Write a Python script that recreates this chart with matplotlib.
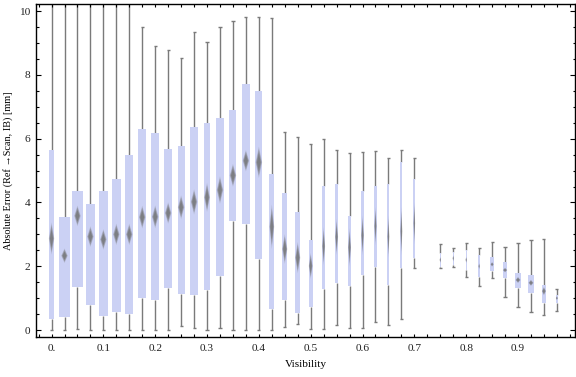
import numpy as np
import matplotlib.pyplot as plt
from matplotlib.patches import Polygon, Rectangle

plt.rcParams['font.family'] = ['Liberation Serif', 'DejaVu Serif']

# bin centres on the visibility axis
visibility = [0.0, 0.025, 0.05, 0.075, 0.1, 0.125, 0.15, 0.175, 0.2, 0.225,
              0.25, 0.275, 0.3, 0.325, 0.35, 0.375, 0.4, 0.425, 0.45, 0.475,
              0.5, 0.525, 0.55, 0.575, 0.6, 0.625, 0.65, 0.675, 0.7, 0.725,
              0.75, 0.775, 0.8, 0.825, 0.85, 0.875, 0.9, 0.925, 0.95, 0.975]

nan = np.nan
whisker_lo = [0.0, 0.0, 0.02, 0.0, 0.0, 0.0, 0.0, 0.0, 0.0, 0.0,
              0.13, 0.07, 0.0, 0.07, 0.0, 0.0, 0.0, 0.0, 0.1, 0.18,
              0.03, 0.03, 0.16, 0.07, 0.07, 0.25, 0.16, 0.34, 1.93, nan,
              1.93, 1.99, 1.67, 1.39, 1.64, 1.02, 0.71, 0.55, 0.47, 0.61]
q1 = [0.35, 0.4, 1.35, 0.78, 0.45, 0.55, 0.5, 1.0, 0.93, 1.33,
      1.13, 1.1, 1.25, 1.69, 3.43, 3.33, 2.24, 0.67, 0.93, 0.54,
      0.73, 1.3, 1.48, 1.38, 1.72, 1.97, 1.41, 1.93, 2.25, nan,
      1.99, 2.03, 1.88, 1.65, 1.86, 1.64, 1.33, 1.17, 0.86, 0.84]
q3 = [5.65, 3.55, 4.35, 3.95, 4.35, 4.73, 5.49, 6.3, 6.18, 5.69,
      5.77, 6.36, 6.48, 6.66, 6.9, 7.71, 7.49, 4.89, 4.3, 3.69,
      2.82, 4.51, 4.58, 3.57, 4.36, 4.51, 4.58, 5.28, 4.73, nan,
      2.4, 2.45, 2.51, 2.36, 2.28, 2.12, 1.79, 1.72, 1.41, 1.1]
whisker_hi = [12.5, 12.5, 12.5, 12.5, 12.5, 12.5, 12.5, 9.49, 8.92, 8.77,
              8.52, 9.36, 9.02, 9.51, 9.7, 9.83, 9.83, 9.8, 6.2, 6.04,
              5.82, 5.98, 5.66, 5.54, 5.57, 5.61, 5.41, 5.66, 5.38, nan,
              2.7, 2.56, 2.72, 2.56, 2.75, 2.59, 2.72, 2.82, 2.84, 1.3]
# mean and its confidence half-height (diamond)
mean = [2.87, 2.33, 3.58, 2.93, 2.84, 3.0, 3.0, 3.54, 3.55, 3.67,
        3.85, 4.02, 4.16, 4.39, 4.85, 5.31, 5.26, 3.24, 2.54, 2.27,
        2.01, 2.63, 2.92, 2.59, 2.97, 3.26, 2.93, 3.1, 3.35, nan,
        2.2, 2.25, 2.2, 2.0, 2.06, 1.88, 1.57, 1.48, 1.22, 1.0]
mean_ci = [0.42, 0.19, 0.27, 0.27, 0.27, 0.28, 0.28, 0.3, 0.3, 0.28,
           0.31, 0.33, 0.38, 0.36, 0.3, 0.28, 0.41, 0.58, 0.39, 0.41,
           0.34, 0.5, 0.47, 0.5, 0.52, 0.5, 0.55, 0.63, 0.55, nan,
           0.08, 0.08, 0.08, 0.08, 0.06, 0.06, 0.08, 0.08, 0.11, 0.05]
# relative sample weight of each bin (sets box width)
weight = [0.53, 1.0, 1.0, 0.84, 0.84, 0.81, 0.75, 0.75, 0.75, 0.75,
          0.63, 0.75, 0.56, 0.68, 0.65, 0.75, 0.65, 0.47, 0.5, 0.5,
          0.37, 0.28, 0.28, 0.28, 0.25, 0.22, 0.19, 0.19, 0.16, 0.0,
          0.12, 0.12, 0.12, 0.12, 0.31, 0.44, 0.5, 0.5, 0.4, 0.2]

box_color = '#cbd1f4'
line_color = '#7a7a7a'

fig = plt.figure(figsize=(5.76, 3.77), dpi=100)
ax = fig.add_axes([0.0625, 0.106, 0.9358, 0.883])

max_w = 0.0207
cap = 0.003
for x, lo, a, b, hi, m, ci, w in zip(visibility, whisker_lo, q1, q3, whisker_hi,
                                      mean, mean_ci, weight):
    if np.isnan(a):
        continue
    bw = w * max_w
    ax.vlines(x, lo, a, color=line_color, lw=1.0, zorder=1)
    ax.vlines(x, b, hi, color=line_color, lw=1.0, zorder=1)
    ax.hlines([lo, hi], x - cap, x + cap, color=line_color, lw=1.0, zorder=1)
    ax.add_patch(Rectangle((x - bw / 2, a), bw, b - a, facecolor=box_color,
                           edgecolor='none', zorder=2))
    dw = min(0.8 * bw, 0.0105) / 2
    # soft diamond: a few stacked layers
    for s, al in [(1.2, 0.25), (1.0, 0.45), (0.7, 0.6)]:
        pts = [(x, m + ci * s), (x + dw * s, m), (x, m - ci * s), (x - dw * s, m)]
        ax.add_patch(Polygon(pts, closed=True, facecolor='#6e6e6e', edgecolor='none',
                             alpha=al, zorder=3))

ax.set_xlim(-0.03, 1.01)
ax.set_ylim(-0.22, 10.22)

ax.set_xticks([0.0, 0.1, 0.2, 0.3, 0.4, 0.5, 0.6, 0.7, 0.8, 0.9])
ax.set_xticklabels(['0.', '0.1', '0.2', '0.3', '0.4', '0.5', '0.6', '0.7', '0.8', '0.9'])
ax.set_xticks(np.arange(-0.025, 1.001, 0.025), minor=True)
ax.set_yticks([0, 2, 4, 6, 8, 10])
ax.set_yticks(np.arange(0, 10.01, 0.5), minor=True)

ax.tick_params(which='both', direction='in', top=True, right=True,
               width=0.8, colors='black', labelcolor='#222222', labelsize=8.2)
ax.tick_params(axis='x', which='both', length=2.5, pad=5)
ax.tick_params(axis='y', which='major', length=3.5, pad=4)
ax.tick_params(axis='y', which='minor', length=1.8)
for sp in ax.spines.values():
    sp.set_linewidth(1.0)

ax.set_xlabel('Visibility', fontsize=8.2, labelpad=5)
ax.set_ylabel('Absolute Error (Ref \u2192Scan, IB) [mm]', fontsize=7.4)
ax.yaxis.set_label_coords(-0.043, 0.5)

fig.savefig('out.png', dpi=100)
